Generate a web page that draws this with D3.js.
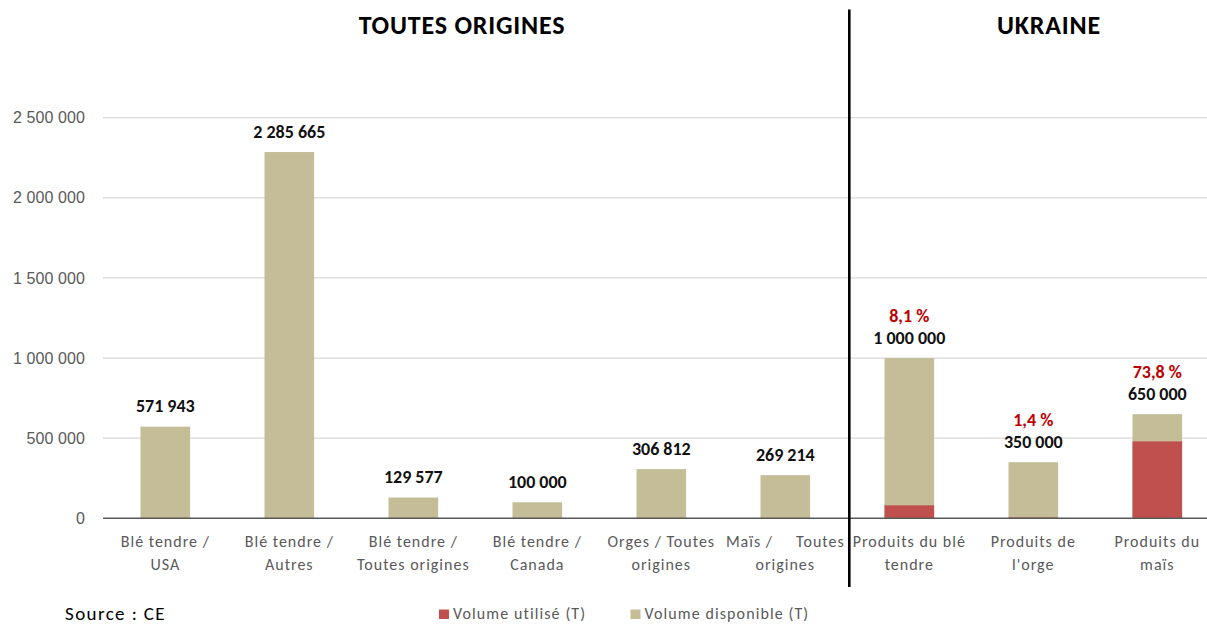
<!DOCTYPE html>
<html lang="fr">
<head>
<meta charset="utf-8">
<script src="https://cdn.jsdelivr.net/npm/d3@7"></script>
<style>
  html, body { margin: 0; padding: 0; background: #fff; }
  svg { display: block; font-family: Carlito, Calibri, Lato, "Open Sans", sans-serif; }
</style>
</head>
<body>
<svg id="chart" width="1207" height="624"></svg>
<script>
// Catégories (libellés sur deux lignes)
const categories = [
  ["Blé tendre /", "USA"],
  ["Blé tendre /", "Autres"],
  ["Blé tendre /", "Toutes origines"],
  ["Blé tendre /", "Canada"],
  ["Orges / Toutes", "origines"],
  ["Maïs /     Toutes", "origines"],
  ["Produits du blé", "tendre"],
  ["Produits de", "l'orge"],
  ["Produits du", "maïs"]
];
// Volume disponible (T)
const volumeDisponible = [571943, 2285665, 129577, 100000, 306812, 269214, 1000000, 350000, 650000];
// Part utilisée (%) — contingents ukrainiens seulement
const partUtilisee = [null, null, null, null, null, null, 8.1, 1.4, 73.8];
const yTicks = [0, 500000, 1000000, 1500000, 2000000, 2500000];
const groupTitles = [
  { label: "TOUTES ORIGINES", from: 0, to: 5 },
  { label: "UKRAINE", from: 6, to: 8 }
];
const legendItems = ["Volume utilisé (T)", "Volume disponible (T)"];

const colUsed = "#C0504D";
const colAvail = "#C4BD97";
const grey = "#595959";

const fr = d3.formatLocale({ decimal: ",", thousands: " ", grouping: [3], currency: ["", " €"] });
const fmtInt = fr.format(",d");
const fmtPct = v => fr.format(".1f")(v) + " %";

const data = categories.map((c, i) => ({
  idx: i,
  lines: c,
  dispo: volumeDisponible[i],
  pct: partUtilisee[i],
  used: partUtilisee[i] == null ? null : volumeDisponible[i] * partUtilisee[i] / 100
}));

const svg = d3.select("#chart");

const x = d3.scaleBand()
  .domain(d3.range(categories.length))
  .range([103.3, 103.3 + 124 * categories.length])
  .paddingInner(0.6)
  .paddingOuter(0.3);

const y = d3.scaleLinear().domain([0, 2500000]).range([518.3, 117.7]);

// Graduations de l'axe vertical
const yAxis = d3.axisLeft(y).tickValues(yTicks).tickFormat(fmtInt).tickSize(0).tickPadding(0);
const gy = svg.append("g").attr("transform", "translate(85,0)").call(yAxis);
gy.select(".domain").remove();
gy.selectAll("text")
  .attr("fill", grey)
  .style("font-size", "16px")
  .style("letter-spacing", "0.1px");

// Quadrillage horizontal
svg.append("g").selectAll("line")
  .data(yTicks.filter(t => t > 0))
  .join("line")
  .attr("x1", 103).attr("x2", 1207)
  .attr("y1", d => y(d)).attr("y2", d => y(d))
  .attr("stroke", "#d9d9d9").attr("stroke-width", 1.2);

// Barres : volume disponible, puis volume utilisé par-dessus
const bars = svg.append("g");
bars.selectAll("rect.dispo")
  .data(data)
  .join("rect")
  .attr("class", "dispo")
  .attr("x", d => x(d.idx))
  .attr("width", x.bandwidth())
  .attr("y", d => y(d.dispo))
  .attr("height", d => y(0) - y(d.dispo))
  .attr("fill", colAvail);

bars.selectAll("rect.used")
  .data(data.filter(d => d.used != null))
  .join("rect")
  .attr("class", "used")
  .attr("x", d => x(d.idx))
  .attr("width", x.bandwidth())
  .attr("y", d => y(d.used))
  .attr("height", d => y(0) - y(d.used))
  .attr("fill", colUsed);

// Axe horizontal
svg.append("line")
  .attr("x1", 103).attr("x2", 1207)
  .attr("y1", y(0)).attr("y2", y(0))
  .attr("stroke", grey).attr("stroke-width", 1.5);

// Étiquettes de catégories
const xl = svg.append("g");
data.forEach(d => {
  const cx = x(d.idx) + x.bandwidth() / 2;
  d.lines.forEach((line, k) => {
    xl.append("text")
      .attr("x", cx)
      .attr("y", 547 + k * 22.5)
      .attr("text-anchor", "middle")
      .attr("fill", grey)
      .style("font-size", "16px")
      .style("letter-spacing", "1px")
      .style("white-space", "pre")
      .attr("xml:space", "preserve")
      .text(line);
  });
});

// Valeurs au-dessus des barres
const lbl = svg.append("g");
lbl.selectAll("text.val")
  .data(data)
  .join("text")
  .attr("class", "val")
  .attr("x", d => x(d.idx) + x.bandwidth() / 2)
  .attr("y", d => y(d.dispo) - 14.5)
  .attr("text-anchor", "middle")
  .attr("fill", "#111")
  .style("font-size", "18px")
  .style("font-weight", "bold")
  .text(d => fmtInt(d.dispo));

lbl.selectAll("text.pct")
  .data(data.filter(d => d.pct != null))
  .join("text")
  .attr("class", "pct")
  .attr("x", d => x(d.idx) + x.bandwidth() / 2)
  .attr("y", d => y(d.dispo) - 36)
  .attr("text-anchor", "middle")
  .attr("fill", "#C00000")
  .style("font-size", "18px")
  .style("font-weight", "bold")
  .text(d => fmtPct(d.pct));

// Séparateur entre les deux groupes
const sepX = 849.3;
svg.append("line")
  .attr("x1", sepX).attr("x2", sepX)
  .attr("y1", 9.5).attr("y2", 587)
  .attr("stroke", "#000").attr("stroke-width", 2.6);

// Titres des groupes
svg.append("g").selectAll("text")
  .data(groupTitles)
  .join("text")
  .attr("x", (d, i) => i === 0 ? 462 : 1049)
  .attr("y", 33.5)
  .attr("text-anchor", "middle")
  .attr("fill", "#000")
  .style("font-size", "26px")
  .style("font-weight", "bold")
  .style("letter-spacing", "0.8px")
  .text(d => d.label);

// Légende
const legX = [439, 630.5];
const leg = svg.append("g");
legendItems.forEach((t, i) => {
  leg.append("rect")
    .attr("x", legX[i]).attr("y", 609.5)
    .attr("width", 10).attr("height", 9.5)
    .attr("fill", i === 0 ? colUsed : colAvail);
  leg.append("text")
    .attr("x", legX[i] + 14).attr("y", 619)
    .attr("fill", grey)
    .style("font-size", "16px")
    .style("letter-spacing", "1.1px")
    .text(t);
});

// Source
svg.append("text")
  .attr("x", 65).attr("y", 620)
  .attr("fill", "#000")
  .style("font-size", "19px")
  .style("letter-spacing", "1.4px")
  .text("Source : CE");
</script>
</body>
</html>
